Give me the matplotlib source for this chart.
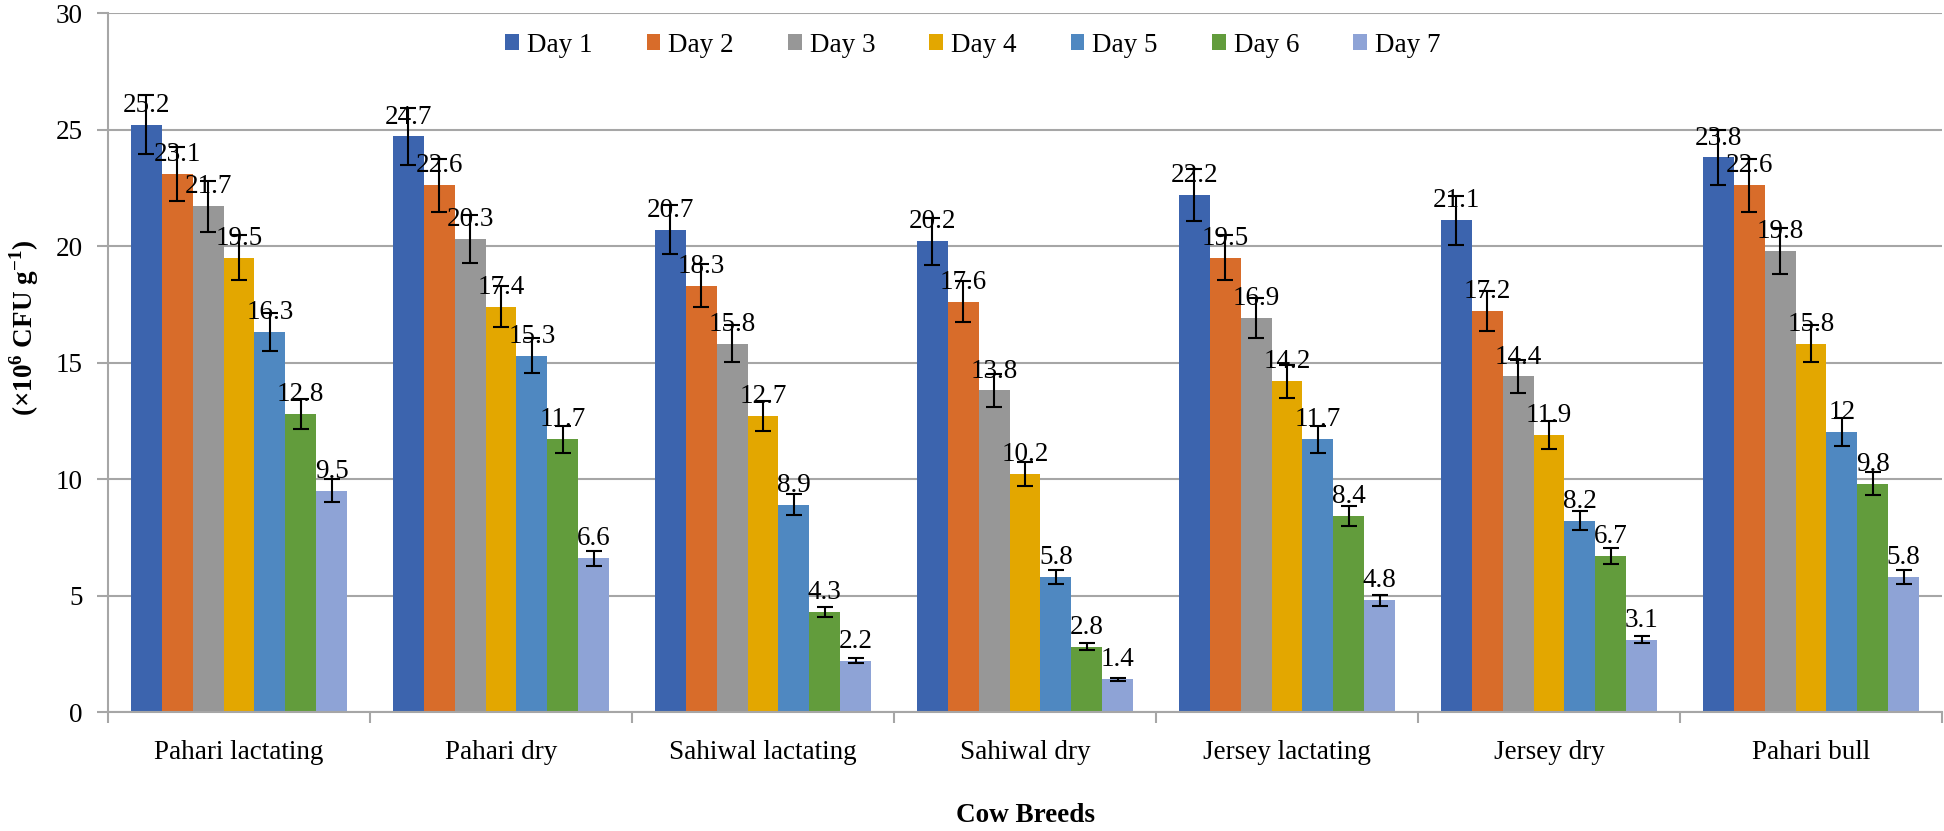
import matplotlib
matplotlib.use("Agg")
import matplotlib.pyplot as plt
from matplotlib.patches import Patch
import numpy as np

plt.rcParams['font.family'] = ['Liberation Serif', 'DejaVu Serif']
plt.rcParams['mathtext.fontset'] = 'custom'
plt.rcParams['mathtext.rm'] = 'Liberation Serif'
plt.rcParams['mathtext.bf'] = 'Liberation Serif:bold'

categories = ["Pahari lactating", "Pahari dry", "Sahiwal lactating", "Sahiwal dry",
              "Jersey lactating", "Jersey dry", "Pahari bull"]
series_names = ["Day 1", "Day 2", "Day 3", "Day 4", "Day 5", "Day 6", "Day 7"]

day1 = [25.2, 24.7, 20.7, 20.2, 22.2, 21.1, 23.8]
day2 = [23.1, 22.6, 18.3, 17.6, 19.5, 17.2, 22.6]
day3 = [21.7, 20.3, 15.8, 13.8, 16.9, 14.4, 19.8]
day4 = [19.5, 17.4, 12.7, 10.2, 14.2, 11.9, 15.8]
day5 = [16.3, 15.3, 8.9, 5.8, 11.7, 8.2, 12]
day6 = [12.8, 11.7, 4.3, 2.8, 8.4, 6.7, 9.8]
day7 = [9.5, 6.6, 2.2, 1.4, 4.8, 3.1, 5.8]

err1 = [1.26, 1.24, 1.04, 1.01, 1.11, 1.06, 1.19]
err2 = [1.16, 1.13, 0.92, 0.88, 0.98, 0.86, 1.13]
err3 = [1.09, 1.02, 0.79, 0.69, 0.85, 0.72, 0.99]
err4 = [0.98, 0.87, 0.64, 0.51, 0.71, 0.60, 0.79]
err5 = [0.82, 0.77, 0.45, 0.29, 0.59, 0.41, 0.60]
err6 = [0.64, 0.59, 0.22, 0.14, 0.42, 0.34, 0.49]
err7 = [0.48, 0.33, 0.11, 0.07, 0.24, 0.16, 0.29]

yticks = [0, 5, 10, 15, 20, 25, 30]

values = [day1, day2, day3, day4, day5, day6, day7]
errors = [err1, err2, err3, err4, err5, err6, err7]
colors = ["#3C64AE", "#D86C2A", "#979797", "#E3A700", "#4F88C1", "#629C3C", "#8EA3D6"]

fig = plt.figure(figsize=(19.44, 8.31), dpi=100)
ax = fig.add_axes([108/1944, 1-712/831, (1942-108)/1944, (712-13)/831])

x = np.arange(len(categories))
bw = 0.1177
fs = 19.5
for i, (vals, errs, col) in enumerate(zip(values, errors, colors)):
    pos = x + (i - 3) * bw
    ax.bar(pos, vals, width=bw, color=col, zorder=2)
    ax.errorbar(pos, vals, yerr=errs, fmt='none', ecolor='black', elinewidth=1.5,
                capsize=6, capthick=1.5, zorder=3)
    for px, v in zip(pos, vals):
        ax.annotate(f"{v:g}", (px, v), xytext=(0, 5), textcoords='offset points',
                    ha='center', va='bottom', fontsize=fs, zorder=4)

ax.set_xlim(-0.5, len(categories) - 0.5)
ax.set_ylim(0, 30)
ax.set_yticks(yticks)
ax.set_yticklabels([str(t) for t in yticks], fontsize=fs)
ax.yaxis.grid(True, color='#A6A6A6', linewidth=1.5, zorder=0)
ax.set_axisbelow(True)

ax.set_xticks(np.arange(len(categories) + 1) - 0.5)
ax.set_xticklabels([])
ax.set_xticks(x, minor=True)
ax.set_xticklabels(categories, minor=True, fontsize=fs)
ax.tick_params(axis='x', which='major', length=8, width=1.5, color='#A6A6A6')
ax.tick_params(axis='x', which='minor', length=0, pad=20)
ax.tick_params(axis='y', length=8, width=1.5, color='#A6A6A6', pad=10)

for s in ['top', 'right']:
    ax.spines[s].set_visible(False)
for s in ['left', 'bottom']:
    ax.spines[s].set_color('#A6A6A6')
    ax.spines[s].set_linewidth(1.5)

fig.text(24/1944, 0.605, r'(×10$^{\mathbf{6}}$ CFU g$^{\mathbf{-1}}$)', rotation=90,
         ha='center', va='center', fontsize=fs, fontweight='bold')
fig.text(ax.get_position().x0 + ax.get_position().width/2, 1-815/831, 'Cow Breeds',
         ha='center', va='center', fontsize=fs, fontweight='bold')

handles = [Patch(facecolor=c, edgecolor='none') for c in colors]
fig.legend(handles, series_names, loc='center', bbox_to_anchor=(973/1944, 1-45/831),
           ncol=7, frameon=False, fontsize=fs, handlelength=0.5, handleheight=0.5,
           handletextpad=0.3, columnspacing=2.0, borderpad=0, borderaxespad=0)

fig.savefig("out.png", dpi=100)
